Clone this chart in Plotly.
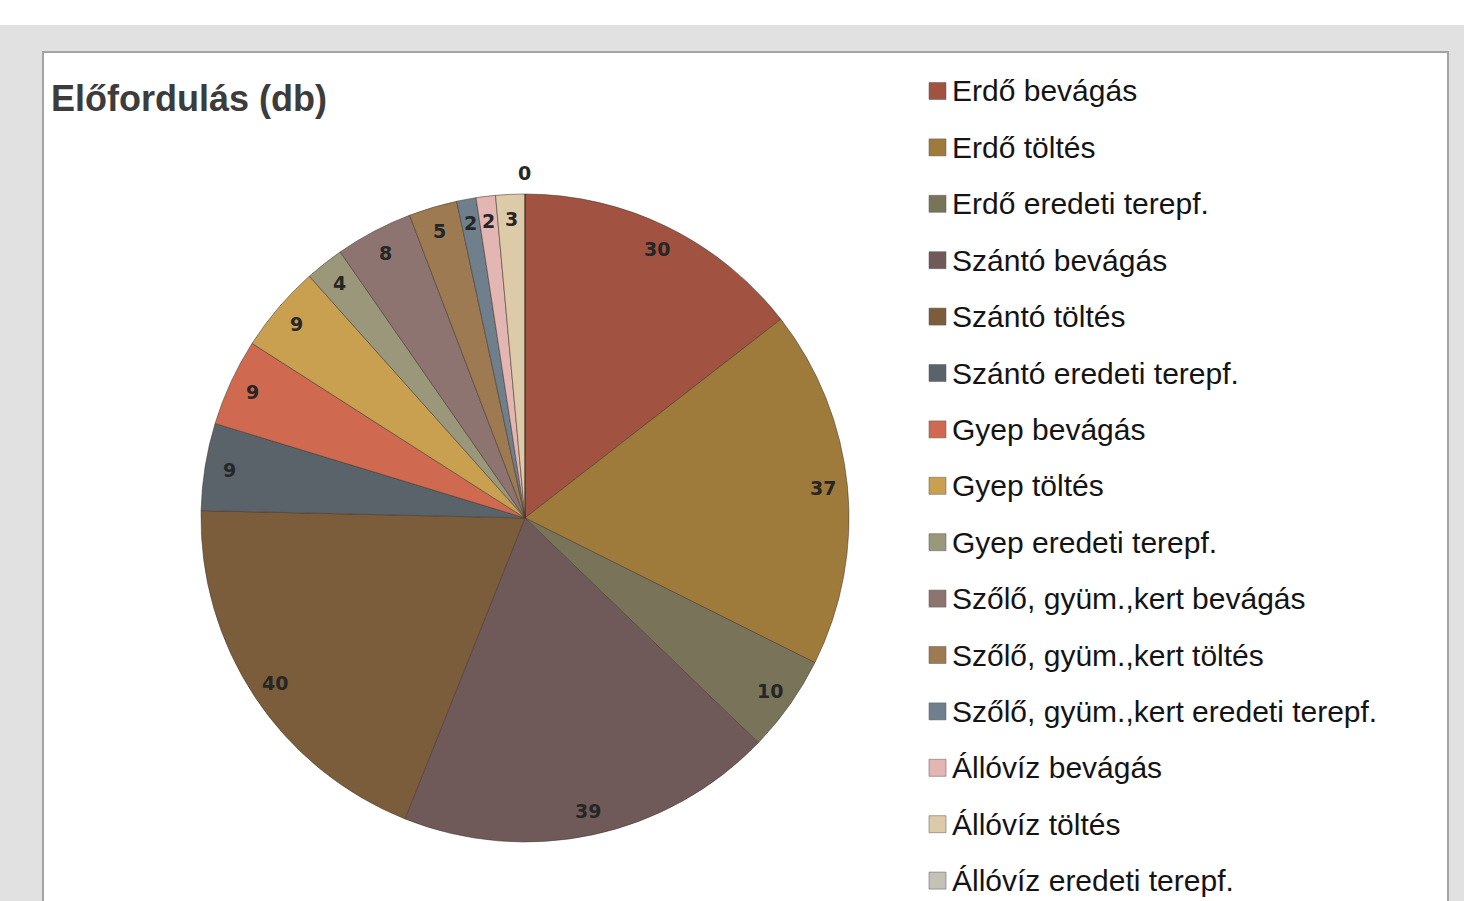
import math
import plotly.graph_objects as go

categories = [
    "Erdő bevágás", "Erdő töltés", "Erdő eredeti terepf.",
    "Szántó bevágás", "Szántó töltés", "Szántó eredeti terepf.",
    "Gyep bevágás", "Gyep töltés", "Gyep eredeti terepf.",
    "Szőlő, gyüm.,kert bevágás", "Szőlő, gyüm.,kert töltés", "Szőlő, gyüm.,kert eredeti terepf.",
    "Állóvíz bevágás", "Állóvíz töltés", "Állóvíz eredeti terepf.",
]
values = [30, 37, 10, 39, 40, 9, 9, 9, 4, 8, 5, 2, 2, 3, 0]
colors = [
    "#a15240", "#9f7b3b", "#79735a",
    "#6f5a59", "#7b5d3b", "#5a636a",
    "#cf6a50", "#c9a050", "#9b977a",
    "#8e7471", "#9d7a52", "#6f808c",
    "#e3b5b3", "#dccaa9", "#c4c1b6",
]
title_text = "Előfordulás (db)"

W, H = 1464, 901
dom_x = [0.1373, 0.5799]
dom_y = [0.0655, 0.7847]

fig = go.Figure()
fig.add_trace(go.Pie(
    labels=categories, values=values, sort=False, direction="clockwise",
    rotation=0, textinfo="none", hoverinfo="label+value",
    marker=dict(colors=colors, line=dict(color="rgba(70,55,45,0.55)", width=1)),
    domain=dict(x=dom_x, y=dom_y), showlegend=False,
))

shapes = [
    dict(type="rect", xref="paper", yref="paper", x0=0, x1=1, y0=(H - 25) / H, y1=1.01,
         fillcolor="white", line=dict(width=0), layer="below"),
    dict(type="rect", xref="paper", yref="paper", x0=43 / W, x1=1448 / W, y0=-0.02, y1=(H - 52) / H,
         fillcolor="white", line=dict(color="#a4a4a4", width=2), layer="below"),
]
annotations = [
    dict(text="<b>" + title_text + "</b>", xref="paper", yref="paper", x=49 / W, y=(H - 98) / H,
         xanchor="left", yanchor="middle", showarrow=False,
         font=dict(family="Liberation Sans", size=36, color="#3c3c3c")),
]

# slice value labels, placed along each slice's mid-angle
cx = (dom_x[0] + dom_x[1]) / 2 * W
cy = (dom_y[0] + dom_y[1]) / 2 * H
R = min((dom_x[1] - dom_x[0]) * W, (dom_y[1] - dom_y[0]) * H) / 2
total = sum(values)
cum = 0
for v in values:
    mid = (cum + v / 2) / total * 2 * math.pi
    cum += v
    r = R * (0.925 if v > 0 else 1.065)
    px = cx + r * math.sin(mid)
    py = cy + r * math.cos(mid)
    annotations.append(dict(text="<b>" + str(v) + "</b>", xref="paper", yref="paper", x=px / W, y=py / H,
                            xanchor="center", yanchor="middle", showarrow=False,
                            font=dict(family="DejaVu Sans", size=19, color="#262626")))

# legend
row0, step = 91, 56.4
for i, (c, col) in enumerate(zip(categories, colors)):
    yc = row0 + i * step
    shapes.append(dict(type="rect", xref="paper", yref="paper",
                       x0=929 / W, x1=946 / W, y0=(H - yc - 8.5) / H, y1=(H - yc + 8.5) / H,
                       fillcolor=col, line=dict(color="rgba(90,90,90,0.5)", width=1)))
    annotations.append(dict(text=c, xref="paper", yref="paper", x=950 / W, y=(H - yc) / H,
                            xanchor="left", yanchor="middle", showarrow=False,
                            font=dict(family="Liberation Sans", size=30, color="#141414")))

fig.update_layout(
    width=W, height=H, margin=dict(l=0, r=0, t=0, b=0),
    paper_bgcolor="#e1e1e1", plot_bgcolor="#e1e1e1",
    shapes=shapes, annotations=annotations,
)
fig.write_html("out.html", config={"displayModeBar": False},
               post_script="document.body.style.margin='0';document.body.style.padding='0';document.body.style.overflow='hidden';")
